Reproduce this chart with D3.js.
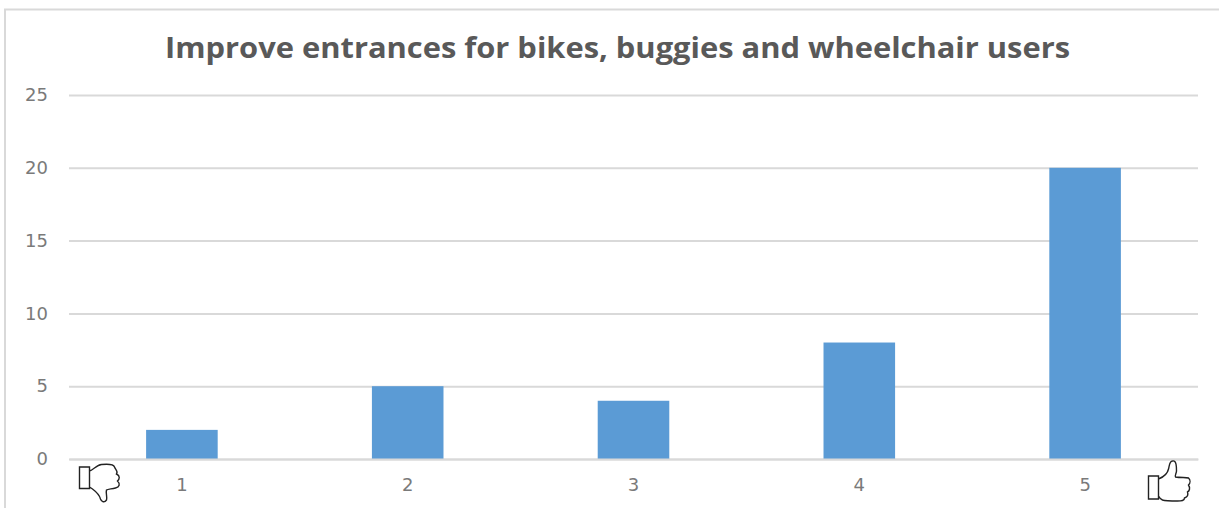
<!DOCTYPE html>
<html>
<head>
<meta charset="utf-8">
<script src="https://cdn.jsdelivr.net/npm/d3@7"></script>
<style>
  html, body { margin: 0; padding: 0; background: #fff; }
  svg { display: block; }
  .title { font-family: "Open Sans", sans-serif; }
</style>
</head>
<body>
<svg id="chart"></svg>
<script>
// Chart data
const categories = ["1", "2", "3", "4", "5"];
const responses = [2, 5, 4, 8, 20];
const yTicks = [0, 5, 10, 15, 20, 25];
const chartTitle = "Improve entrances for bikes, buggies and wheelchair users";

// Chart dimensions
const width = 1219, height = 508;
const margin = { top: 95, right: 21, bottom: 49, left: 69 };
const tickFont = '"DejaVu Sans", sans-serif';

const svg = d3.select("#chart")
    .attr("width", width)
    .attr("height", height);

// Scales
const x = d3.scaleBand()
    .domain(categories)
    .range([margin.left, width - margin.right])
    .paddingInner(0.683)
    .paddingOuter(0.3415);

const y = d3.scaleLinear()
    .domain([0, 25])
    .range([height - margin.bottom, margin.top]);

// Outer frame, only top and left show in the picture
svg.append("path")
    .attr("d", `M5,${height}V9.5H${width}`)
    .attr("fill", "none")
    .attr("stroke", "#d9d9d9")
    .attr("stroke-width", 2);

// Title, stretched to the width it has in the picture
svg.append("text")
    .attr("class", "title")
    .attr("x", 165)
    .attr("y", 58)
    .attr("textLength", 905)
    .attr("lengthAdjust", "spacingAndGlyphs")
    .attr("font-size", 28)
    .attr("font-weight", 700)
    .attr("fill", "#595959")
    .text(chartTitle);

// Y axis with gridlines
const yAxis = svg.append("g")
    .attr("transform", `translate(${margin.left},0)`)
    .call(d3.axisLeft(y)
        .tickValues(yTicks)
        .tickSize(-(width - margin.left - margin.right))
        .tickPadding(21));
yAxis.select(".domain").remove();
yAxis.selectAll(".tick line")
    .attr("stroke", "#d9d9d9")
    .attr("stroke-width", 2);
yAxis.selectAll(".tick text")
    .style("font-size", "18px")
    .style("font-family", tickFont)
    .attr("fill", "#7a7a7a");

// Bars
svg.append("g")
    .selectAll("rect")
    .data(responses)
    .join("rect")
    .attr("x", (d, i) => x(categories[i]))
    .attr("y", d => y(d))
    .attr("width", x.bandwidth())
    .attr("height", d => y(0) - y(d))
    .attr("fill", "#5b9bd5");

// X axis
const xAxis = svg.append("g")
    .attr("transform", `translate(0,${y(0)})`)
    .call(d3.axisBottom(x).tickSize(0).tickPadding(19));
xAxis.select(".domain")
    .attr("stroke", "#d9d9d9")
    .attr("stroke-width", 2);
xAxis.selectAll(".tick text")
    .style("font-size", "18px")
    .style("font-family", tickFont)
    .attr("fill", "#7a7a7a");

// Thumb icons at the two ends of the scale
const thumbDown = "M0,0H10V21.5H0Z M10,4C14,3 17,-2 22,-2.5C27,-3 34,-3 35,0C36,3 39,4 37,7C41,9 40,12 38,14C41,17 40,20 36,21C32,22 28,22 27,23C26,26 28,30 27,33C25,36 22,35 21,32C20,28 17,25 13,22L10,20";
const thumbUp = "M0,0H10V23H0Z M10,3C15,1 19,-2 20,-7C21,-11 21,-15 24,-15C28,-16 28,-9 28,-5C28,-3 26,0 27,1C32,2 38,1 40,2C42,4 42,7 40,9C42,12 41,15 39,16C40,19 39,21 36,22C36,25 33,25 29,25C24,25 17,25 14,24C12,23 11,22 10,20";

svg.append("path")
    .attr("transform", "translate(79.5,467)")
    .attr("d", thumbDown)
    .attr("fill", "#fff")
    .attr("stroke", "#222")
    .attr("stroke-width", 1.4);

svg.append("path")
    .attr("transform", "translate(1148.5,476)")
    .attr("d", thumbUp)
    .attr("fill", "#fff")
    .attr("stroke", "#222")
    .attr("stroke-width", 1.4);
</script>
</body>
</html>
